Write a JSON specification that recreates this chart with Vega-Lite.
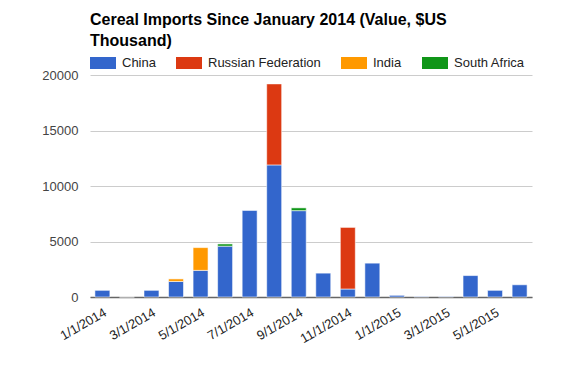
{
  "$schema": "https://vega.github.io/schema/vega-lite/v6.json",
  "width": 442,
  "height": 222,
  "autosize": {"type": "none"},
  "padding": {"left": 90, "top": 75, "right": 44, "bottom": 70},
  "background": "white",
  "title": {
    "text": ["Cereal Imports Since January 2014 (Value, $US", "Thousand)"],
    "anchor": "start",
    "frame": "group",
    "font": "Liberation Sans",
    "fontSize": 16,
    "fontWeight": "bold",
    "color": "#000",
    "lineHeight": 21,
    "offset": 1
  },
  "data": {
    "values": [
      {"month": "1/1/2014", "country": "China", "value": 600},
      {"month": "2/1/2014", "country": "China", "value": 0},
      {"month": "3/1/2014", "country": "China", "value": 600},
      {"month": "4/1/2014", "country": "China", "value": 1400},
      {"month": "4/1/2014", "country": "India", "value": 230},
      {"month": "5/1/2014", "country": "China", "value": 2400},
      {"month": "5/1/2014", "country": "India", "value": 2050},
      {"month": "6/1/2014", "country": "China", "value": 4580},
      {"month": "6/1/2014", "country": "South Africa", "value": 200},
      {"month": "7/1/2014", "country": "China", "value": 7800},
      {"month": "8/1/2014", "country": "China", "value": 11900},
      {"month": "8/1/2014", "country": "Russian Federation", "value": 7300},
      {"month": "9/1/2014", "country": "China", "value": 7780},
      {"month": "9/1/2014", "country": "South Africa", "value": 250},
      {"month": "10/1/2014", "country": "China", "value": 2150},
      {"month": "11/1/2014", "country": "China", "value": 720},
      {"month": "11/1/2014", "country": "Russian Federation", "value": 5550},
      {"month": "12/1/2014", "country": "China", "value": 3050},
      {"month": "1/1/2015", "country": "China", "value": 150},
      {"month": "2/1/2015", "country": "China", "value": 40},
      {"month": "3/1/2015", "country": "China", "value": 40},
      {"month": "4/1/2015", "country": "China", "value": 1930},
      {"month": "5/1/2015", "country": "China", "value": 600},
      {"month": "6/1/2015", "country": "China", "value": 1100}
    ]
  },
  "mark": {"type": "bar", "stroke": "#ffffff", "strokeWidth": 0.7, "strokeOpacity": 0.8},
  "encoding": {
    "x": {
      "field": "month",
      "type": "ordinal",
      "sort": null,
      "scale": {"paddingInner": 0.39, "paddingOuter": 0.2},
      "axis": {
        "title": null,
        "values": ["1/1/2014", "3/1/2014", "5/1/2014", "7/1/2014", "9/1/2014", "11/1/2014", "1/1/2015", "3/1/2015", "5/1/2015"],
        "labelAngle": -30,
        "labelAlign": "right",
        "labelBaseline": "top",
        "labelPadding": 9,
        "ticks": false,
        "labelFont": "Liberation Sans",
        "labelFontSize": 13,
        "labelColor": "#222",
        "domainColor": "#666",
        "domainWidth": 1.5,
        "grid": false
      }
    },
    "y": {
      "field": "value",
      "type": "quantitative",
      "aggregate": "sum",
      "stack": "zero",
      "scale": {"domain": [0, 20000], "nice": false},
      "axis": {
        "title": null,
        "values": [0, 5000, 10000, 15000, 20000],
        "format": "d",
        "domain": false,
        "ticks": false,
        "labelPadding": 12,
        "labelFont": "Liberation Sans",
        "labelFontSize": 13,
        "labelColor": "#444",
        "gridColor": "#cccccc",
        "gridWidth": 1
      }
    },
    "order": {"field": "country", "type": "nominal", "sort": "ascending"},
    "color": {
      "field": "country",
      "type": "nominal",
      "scale": {
        "domain": ["China", "Russian Federation", "India", "South Africa"],
        "range": ["#3366cc", "#dc3912", "#ff9900", "#109618"]
      },
      "legend": {
        "title": null,
        "orient": "none",
        "legendX": 0,
        "legendY": -25,
        "direction": "horizontal",
        "columns": 4,
        "columnPadding": 20,
        "symbolType": "M-1,-0.4615H1V0.4615H-1Z",
        "symbolSize": 676,
        "symbolStrokeWidth": 0,
        "labelOffset": 6,
        "labelFont": "Liberation Sans",
        "labelFontSize": 13,
        "labelColor": "#222"
      }
    }
  },
  "config": {"view": {"stroke": null}}
}
